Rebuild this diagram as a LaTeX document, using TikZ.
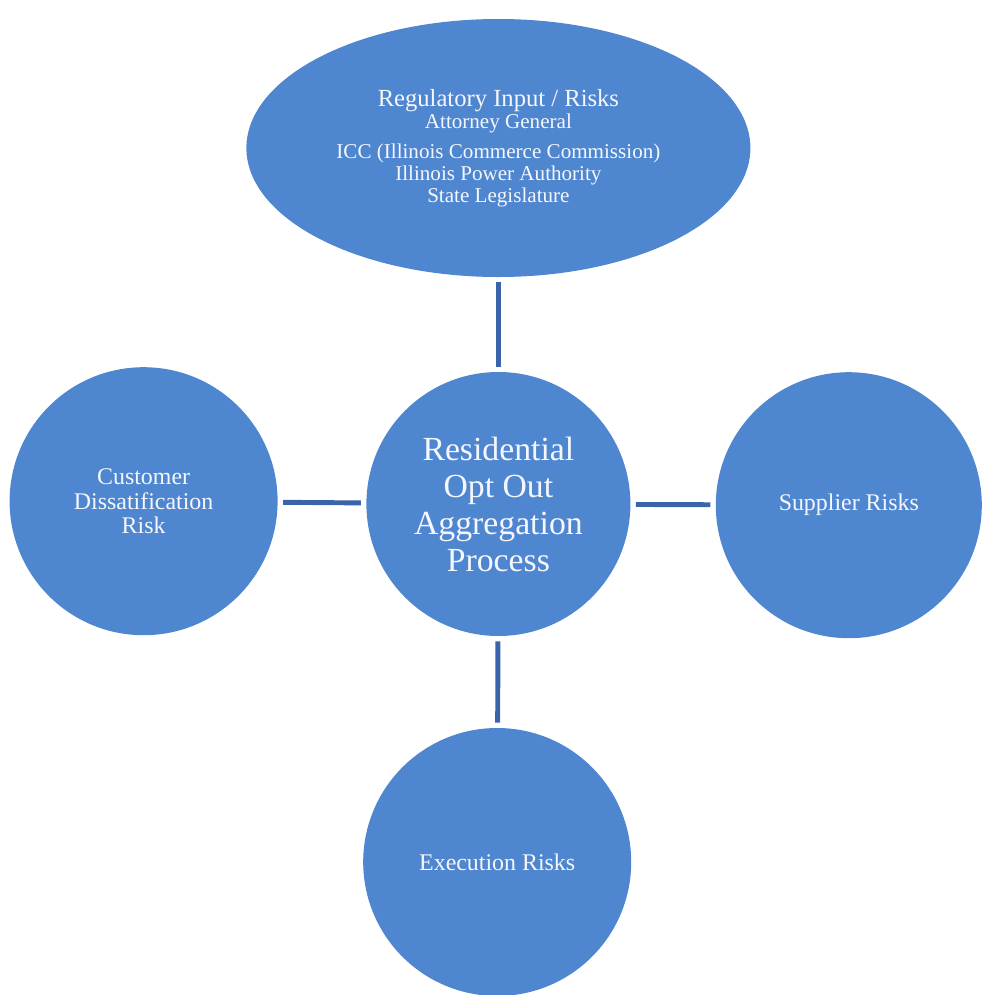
\documentclass[tikz,border=0pt]{standalone}
\usepackage{fontspec}
\setmainfont{Liberation Serif}
\usetikzlibrary{shapes.geometric, positioning}
\definecolor{bubbleFill}{RGB}{ 79,134,208}
\definecolor{linkBase}{RGB}{ 58,100,170}
\definecolor{bubbleText}{RGB}{245,247,252}
\tikzset{
    riskcircle/.style={
        circle, fill=bubbleFill, draw=none, inner sep=0pt,
        minimum size=6.7cm, text=bubbleText, align=center,
        font=\fontsize{17}{17.7}\selectfont,
    },
    corecircle/.style={
        riskcircle, minimum size=6.6cm,
        font=\fontsize{24}{26.3}\selectfont,
    },
    regellipse/.style={
        ellipse, fill=bubbleFill, draw=none, inner sep=0pt,
        minimum width=12.6cm, minimum height=6.45cm,
        text=bubbleText, align=center,
        font=\fontsize{15}{15.6}\selectfont,
    },
    % plain connector, stops short of both shapes
    link/.style={
        draw=linkBase, line width=3.5pt,
        shorten >=0.13cm, shorten <=0.13cm,
    },
}
\begin{document}
\begin{tikzpicture}
\useasboundingbox (0,0) rectangle (24.525,-24.875);

% ============================================================
%   Nodes
%   - regulatory ellipse on top, the process in the middle
%   - three risk circles left, right and below
% ============================================================
\node[regellipse] (reg) at (12.46, -3.70) {%
    {\fontsize{17.5}{16.3}\selectfont Regulatory Input / Risks}\\
    Attorney General\\[6pt]
    ICC (Illinois Commerce Commission)\\
    Illinois Power Authority\\
    State Legislature};

\node[corecircle] (core) at (12.46, -12.60)
    {Residential\\Opt Out\\Aggregation\\Process};

\node[riskcircle] (cust) at ( 3.59, -12.53)
    {Customer\\Dissatification\\Risk};
\node[riskcircle, minimum size=6.65cm] (supp) at (21.22, -12.63)
    {Supplier Risks};
\node[riskcircle] (exec) at (12.43, -21.55) {Execution Risks};

% ============================================================
%   Connectors
% ============================================================
\draw[link] (reg)  -- (core);
\draw[link] (cust) -- (core);
\draw[link] (core) -- (supp);
\draw[link] (core) -- (exec);

\end{tikzpicture}
\end{document}
